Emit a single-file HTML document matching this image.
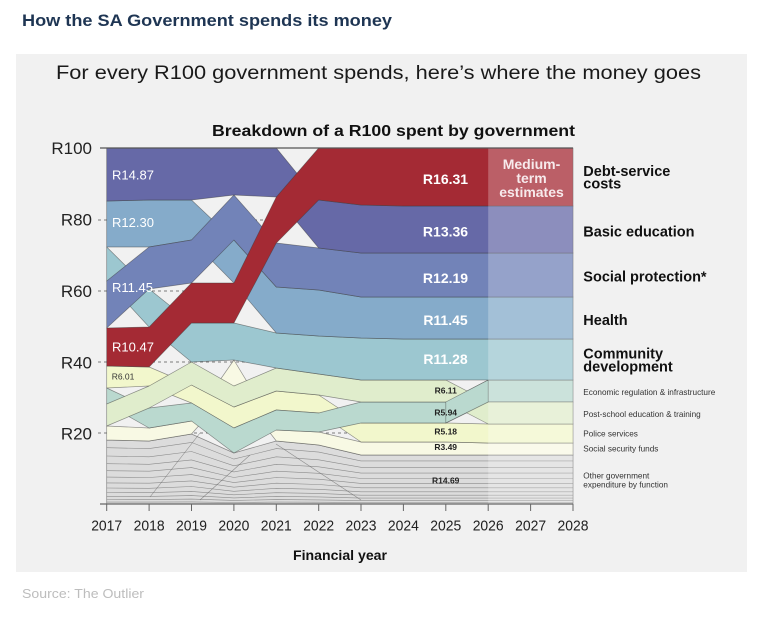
<!DOCTYPE html>
<html>
<head>
<meta charset="utf-8">
<style>
html,body{margin:0;padding:0;background:#fff;}
svg{display:block;}
text{font-family:"Liberation Sans",Arial,sans-serif;}
</style>
</head>
<body>
<svg width="766" height="624" viewBox="0 0 766 624" xmlns="http://www.w3.org/2000/svg">
<rect width="766" height="624" fill="#ffffff"/>
<text x="22" y="26" font-size="17" font-weight="bold" fill="#1e3553" textLength="370" lengthAdjust="spacingAndGlyphs">How the SA Government spends its money</text>
<rect x="16" y="54" width="731" height="518" fill="#f1f1f1"/>
<text x="56" y="79" font-size="19" fill="#1a1a1a" textLength="645" lengthAdjust="spacingAndGlyphs">For every R100 government spends, here’s where the money goes</text>
<text x="212" y="136" font-size="15.5" font-weight="bold" fill="#111" textLength="363" lengthAdjust="spacingAndGlyphs">Breakdown of a R100 spent by government</text>

<!-- gridlines -->
<g stroke="#555" stroke-width="0.8" stroke-dasharray="3,3">
<line x1="98" y1="220" x2="573" y2="220"/>
<line x1="98" y1="291" x2="573" y2="291"/>
<line x1="98" y1="362" x2="573" y2="362"/>
<line x1="98" y1="433" x2="573" y2="433"/>
</g>

<g stroke="#3d3d3d" stroke-width="0.7" stroke-opacity="0.55" stroke-linejoin="round">
<!-- gray bands -->
<polygon fill="#dcdcdc" points="106.7,440 149.1,441 191.5,434 233.9,453 276.3,441 318.7,445 361,455 573,455 573,504 106.7,504"/>
</g>
<g fill="none" stroke="#6a6a6a" stroke-width="0.6" stroke-opacity="0.7">
<polyline points="106.7,447.7 149.1,448.6 191.5,442.4 233.9,459.1 276.3,448.6 318.7,452.1 361,460.9 573,460.9"/>
<polyline points="106.7,456 149.1,456.8 191.5,451.5 233.9,465.8 276.3,456.8 318.7,459.8 361,467.3 573,467.3"/>
<polyline points="106.7,463.7 149.1,464.3 191.5,459.9 233.9,471.9 276.3,464.3 318.7,466.8 361,473.1 573,473.1"/>
<polyline points="106.7,470.7 149.1,471.2 191.5,467.6 233.9,477.5 276.3,471.2 318.7,473.3 361,478.5 573,478.5"/>
<polyline points="106.7,477.1 149.1,477.5 191.5,474.6 233.9,482.6 276.3,477.5 318.7,479.2 361,483.4 573,483.4"/>
<polyline points="106.7,482.9 149.1,483.2 191.5,480.9 233.9,487.2 276.3,483.2 318.7,484.5 361,487.8 573,487.8"/>
<polyline points="106.7,488 149.1,488.3 191.5,486.5 233.9,491.3 276.3,488.3 318.7,489.3 361,491.8 573,491.8"/>
<polyline points="106.7,492.5 149.1,492.7 191.5,491.4 233.9,494.8 276.3,492.7 318.7,493.4 361,495.2 573,495.2"/>
<polyline points="106.7,496.3 149.1,496.4 191.5,495.6 233.9,497.9 276.3,496.4 318.7,496.9 361,498.1 573,498.1"/>
<polyline points="106.7,499.5 149.1,499.6 191.5,499.1 233.9,500.4 276.3,499.6 318.7,499.9 361,500.6 573,500.6"/>
<polyline points="106.7,502.1 149.1,502.1 191.5,501.9 233.9,502.5 276.3,502.1 318.7,502.2 361,502.5 573,502.5"/>
<line x1="150" y1="497" x2="200" y2="433"/>
<line x1="276" y1="444" x2="361" y2="500"/>
<line x1="200" y1="500" x2="250" y2="455"/>
</g>

<g stroke="#3d3d3d" stroke-width="0.7" stroke-opacity="0.55" stroke-linejoin="round">
<!-- CR -->
<polygon fill="#f8f9e4" points="106.7,426 149.1,428 191.5,421 233.9,360 276.3,430 318.7,432 361,442 403.4,442 445.8,442 488.2,443 530.6,443 573,443 573,455 530.6,455 488.2,455 445.8,455 403.4,455 361,455 318.7,445 276.3,441 233.9,386 191.5,434 149.1,441 106.7,440"/>
<!-- YL -->
<polygon fill="#f2f7cc" points="106.7,366 149.1,367 191.5,385 233.9,407 276.3,391 318.7,395 361,423 403.4,423 445.8,423 488.2,424 530.6,424 573,424 573,443 530.6,443 488.2,443 445.8,442 403.4,442 361,442 318.7,413 276.3,410 233.9,428 191.5,403 149.1,386 106.7,388"/>
<!-- MT -->
<polygon fill="#bad9cf" points="106.7,388 149.1,408 191.5,403 233.9,428 276.3,410 318.7,413 361,402 403.4,402 445.8,402 488.2,380 530.6,380 573,380 573,402 530.6,402 488.2,402 445.8,423 403.4,423 361,423 318.7,432 276.3,430 233.9,453 191.5,421 149.1,428 106.7,404"/>
<!-- LG -->
<polygon fill="#e0edcc" points="106.7,404 149.1,386 191.5,362 233.9,386 276.3,368 318.7,374 361,380 403.4,380 445.8,380 488.2,402 530.6,402 573,402 573,424 530.6,424 488.2,424 445.8,402 403.4,402 361,402 318.7,395 276.3,391 233.9,407 191.5,385 149.1,408 106.7,426"/>
<!-- MT segment on top 2025-2026 -->
<polygon fill="#bad9cf" points="445.8,402 488.2,380 488.2,402 445.8,423"/>
<!-- TL -->
<polygon fill="#9cc7d0" points="106.7,247 149.1,289 191.5,323 233.9,323 276.3,333 318.7,336 361,338 403.4,339 445.8,339 488.2,339 530.6,339 573,339 573,380 530.6,380 488.2,380 445.8,380 403.4,380 361,380 318.7,374 276.3,368 233.9,360 191.5,362 149.1,327 106.7,281"/>
<!-- LB -->
<polygon fill="#85abca" points="106.7,201 149.1,200 191.5,200 233.9,240 276.3,287 318.7,290 361,297 403.4,297 445.8,297 488.2,297 530.6,297 573,297 573,339 530.6,339 488.2,339 445.8,339 403.4,339 361,338 318.7,336 276.3,333 233.9,283 191.5,240 149.1,247 106.7,247"/>
<!-- MB -->
<polygon fill="#7283b8" points="106.7,281 149.1,247 191.5,240 233.9,195 276.3,243 318.7,248 361,253 403.4,253 445.8,253 488.2,253 530.6,253 573,253 573,297 530.6,297 488.2,297 445.8,297 403.4,297 361,297 318.7,290 276.3,287 233.9,240 191.5,283 149.1,289 106.7,328"/>
<!-- DB -->
<polygon fill="#6669a7" points="106.7,148 149.1,148 191.5,148 233.9,148 276.3,148 318.7,200 361,205 403.4,206 445.8,206 488.2,206 530.6,206 573,206 573,253 530.6,253 488.2,253 445.8,253 403.4,253 361,253 318.7,248 276.3,197 233.9,195 191.5,200 149.1,200 106.7,201"/>
<!-- RD -->
<polygon fill="#a42a34" points="106.7,328 149.1,327 191.5,283 233.9,283 276.3,197 318.7,148 361,148 403.4,148 445.8,148 488.2,148 530.6,148 573,148 573,206 530.6,206 488.2,206 445.8,206 403.4,206 361,205 318.7,200 276.3,243 233.9,323 191.5,323 149.1,367 106.7,366"/>
</g>

<!-- medium-term overlay -->
<rect x="488.2" y="148" width="84.8" height="356" fill="#ffffff" fill-opacity="0.25"/>

<!-- top line and axis -->
<line x1="100" y1="148" x2="573" y2="148" stroke="#555" stroke-width="1.2"/>
<line x1="100" y1="504" x2="573" y2="504" stroke="#666" stroke-width="1.2"/>
<g stroke="#666" stroke-width="1">
<line x1="106.7" y1="504" x2="106.7" y2="511"/>
<line x1="149.1" y1="504" x2="149.1" y2="511"/>
<line x1="191.5" y1="504" x2="191.5" y2="511"/>
<line x1="233.9" y1="504" x2="233.9" y2="511"/>
<line x1="276.3" y1="504" x2="276.3" y2="511"/>
<line x1="318.7" y1="504" x2="318.7" y2="511"/>
<line x1="361" y1="504" x2="361" y2="511"/>
<line x1="403.4" y1="504" x2="403.4" y2="511"/>
<line x1="445.8" y1="504" x2="445.8" y2="511"/>
<line x1="488.2" y1="504" x2="488.2" y2="511"/>
<line x1="530.6" y1="504" x2="530.6" y2="511"/>
<line x1="573" y1="504" x2="573" y2="511"/>
</g>

<!-- y labels -->
<g font-size="17" fill="#222" text-anchor="end">
<text x="92" y="154">R100</text>
<text x="92" y="225.7">R80</text>
<text x="92" y="297">R60</text>
<text x="92" y="368.3">R40</text>
<text x="92" y="439.3">R20</text>
</g>

<!-- x labels -->
<g font-size="15" fill="#222" text-anchor="middle">
<text x="106.7" y="530.5" textLength="31" lengthAdjust="spacingAndGlyphs">2017</text>
<text x="149.1" y="530.5" textLength="31" lengthAdjust="spacingAndGlyphs">2018</text>
<text x="191.5" y="530.5" textLength="31" lengthAdjust="spacingAndGlyphs">2019</text>
<text x="233.9" y="530.5" textLength="31" lengthAdjust="spacingAndGlyphs">2020</text>
<text x="276.3" y="530.5" textLength="31" lengthAdjust="spacingAndGlyphs">2021</text>
<text x="318.7" y="530.5" textLength="31" lengthAdjust="spacingAndGlyphs">2022</text>
<text x="361" y="530.5" textLength="31" lengthAdjust="spacingAndGlyphs">2023</text>
<text x="403.4" y="530.5" textLength="31" lengthAdjust="spacingAndGlyphs">2024</text>
<text x="445.8" y="530.5" textLength="31" lengthAdjust="spacingAndGlyphs">2025</text>
<text x="488.2" y="530.5" textLength="31" lengthAdjust="spacingAndGlyphs">2026</text>
<text x="530.6" y="530.5" textLength="31" lengthAdjust="spacingAndGlyphs">2027</text>
<text x="573" y="530.5" textLength="31" lengthAdjust="spacingAndGlyphs">2028</text>
</g>
<text x="340" y="560" font-size="13.5" font-weight="bold" fill="#111" text-anchor="middle" textLength="94" lengthAdjust="spacingAndGlyphs">Financial year</text>

<!-- in-band labels left -->
<g font-size="13" fill="#ffffff">
<text x="112" y="179.3">R14.87</text>
<text x="112" y="227">R12.30</text>
<text x="112" y="292">R11.45</text>
<text x="112" y="351.5">R10.47</text>
</g>
<text x="111.7" y="379.5" font-size="8.5" fill="#333">R6.01</text>

<!-- in-band labels right -->
<g font-size="14" font-weight="bold" fill="#ffffff" text-anchor="middle">
<text x="445.5" y="184">R16.31</text>
<text x="445.5" y="236.5">R13.36</text>
<text x="445.5" y="283">R12.19</text>
<text x="445.5" y="325">R11.45</text>
<text x="445.5" y="364">R11.28</text>
</g>
<g font-size="8.5" font-weight="bold" fill="#222" text-anchor="middle">
<text x="445.7" y="393.5">R6.11</text>
<text x="445.7" y="415.5">R5.94</text>
<text x="445.7" y="434.3">R5.18</text>
<text x="445.7" y="450">R3.49</text>
<text x="445.7" y="483.3">R14.69</text>
</g>

<!-- medium-term estimates -->
<g font-size="14" font-weight="bold" fill="#f7eaec" text-anchor="middle">
<text x="531.5" y="169">Medium-</text>
<text x="531.5" y="183">term</text>
<text x="531.5" y="197">estimates</text>
</g>

<!-- right legend -->
<g font-size="14.5" font-weight="bold" fill="#111">
<text x="583.3" y="176">Debt-service</text>
<text x="583.3" y="188.5">costs</text>
<text x="583.3" y="236.7">Basic education</text>
<text x="583.3" y="281.7">Social protection*</text>
<text x="583.3" y="325">Health</text>
<text x="583.3" y="358.3">Community</text>
<text x="583.3" y="371.7">development</text>
</g>
<g font-size="8.2" fill="#333">
<text x="583.3" y="395">Economic regulation &amp; infrastructure</text>
<text x="583.3" y="417">Post-school education &amp; training</text>
<text x="583.3" y="436.5">Police services</text>
<text x="583.3" y="451.7">Social security funds</text>
<text x="583.3" y="478.3">Other government</text>
<text x="583.3" y="487.3">expenditure by function</text>
</g>

<text x="22" y="598" font-size="13" fill="#bdbdbd" textLength="122" lengthAdjust="spacingAndGlyphs">Source: The Outlier</text>
</svg>
</body>
</html>
